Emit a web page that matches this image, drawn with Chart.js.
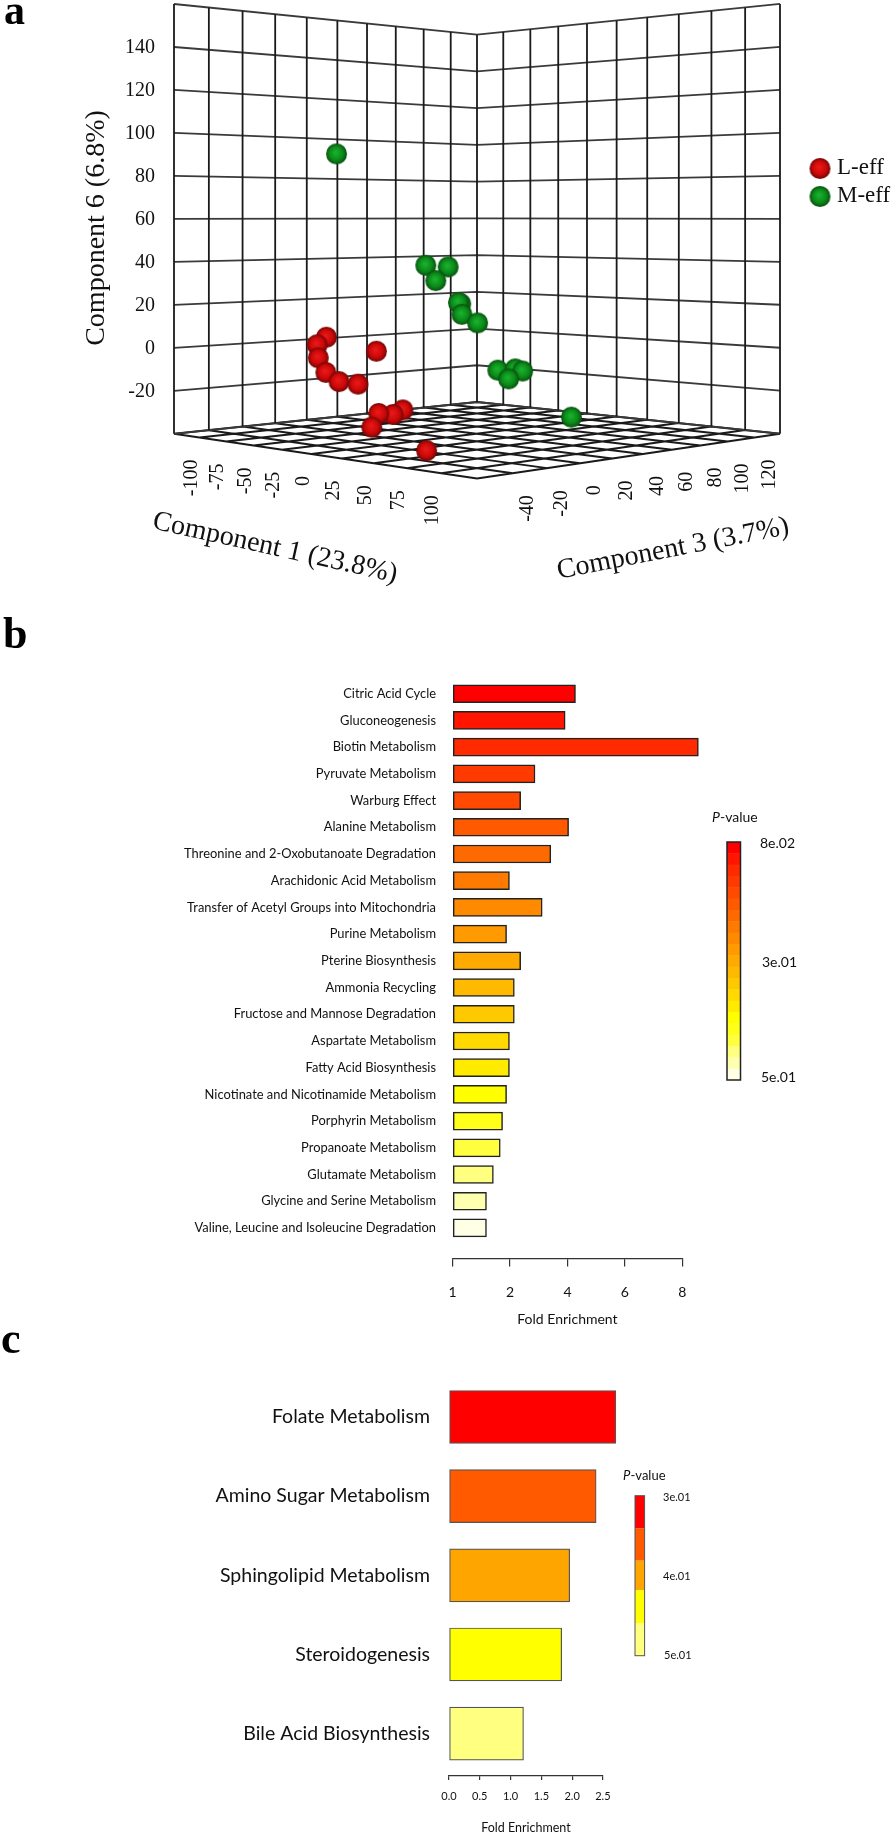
<!DOCTYPE html>
<html>
<head>
<meta charset="utf-8">
<script src="https://cdn.jsdelivr.net/npm/chart.js@4/dist/chart.umd.min.js"></script>
<style>
  html, body { margin: 0; padding: 0; background: #fff; }
  #page { position: relative; width: 896px; height: 1835px; overflow: hidden; }
  canvas { position: absolute; left: 0; }
</style>
</head>
<body>
<div id="page">
  <canvas id="chartA" width="896" height="600" style="top:0"></canvas>
  <canvas id="chartB" width="896" height="730" style="top:600px"></canvas>
  <canvas id="chartC" width="896" height="505" style="top:1330px"></canvas>
</div>
<script>
'use strict';

// panel a: component scores (depth along c3 can't be read from a flat picture, so it is a guess per group)
const lEffC1 = [-76.5, -85, -84, -77, -65, -48, -32, -9.5, -17.7, -30, -36, 63];
const lEffC3 = [0, 0, 0, 0, 0, 0, 0, 0, 0, 0, 0, -40];
const lEffC6 = [3.9, 0, -6.2, -12.8, -16.5, -16.8, -0.8, -26.4, -29, -29.3, -36, -35.7];

const mEffC1 = [-38, -70, -50, -61, -39, -41, -38, -24.5, -7.5, 7, 13, 1.5, 51.5];
const mEffC3 = [-20, 60, 60, 60, 60, 60, 60, 60, 60, 60, 60, 60, 60];
const mEffC6 = [89.5, 36.9, 36.4, 29.5, 18.7, 19.2, 13.6, 9.9, -12, -10.7, -11.4, -15.7, -30.6];

const c1Grid = [-125, -100, -75, -50, -25, 0, 25, 50, 75, 100, 125];
const c3Grid = [-60, -40, -20, 0, 20, 40, 60, 80, 100, 120, 140];
const c6Grid = [-40, -20, 0, 20, 40, 60, 80, 100, 120, 140, 160];
const c1Ticks = [-100, -75, -50, -25, 0, 25, 50, 75, 100];
const c3Ticks = [-40, -20, 0, 20, 40, 60, 80, 100, 120];
const c6Ticks = [-20, 0, 20, 40, 60, 80, 100, 120, 140];

// panel b
const pathwaysB = ['Citric Acid Cycle', 'Gluconeogenesis', 'Biotin Metabolism', 'Pyruvate Metabolism', 'Warburg Effect',
  'Alanine Metabolism', 'Threonine and 2-Oxobutanoate Degradation', 'Arachidonic Acid Metabolism',
  'Transfer of Acetyl Groups into Mitochondria', 'Purine Metabolism', 'Pterine Biosynthesis', 'Ammonia Recycling',
  'Fructose and Mannose Degradation', 'Aspartate Metabolism', 'Fatty Acid Biosynthesis',
  'Nicotinate and Nicotinamide Metabolism', 'Porphyrin Metabolism', 'Propanoate Metabolism', 'Glutamate Metabolism',
  'Glycine and Serine Metabolism', 'Valine, Leucine and Isoleucine Degradation'];
const foldB = [4.28, 3.92, 8.56, 2.87, 2.37, 4.04, 3.42, 1.99, 3.12, 1.94, 2.37, 2.15, 2.15, 1.99, 1.99, 1.94, 1.87, 1.83, 1.71, 1.59, 1.59];
const coloursB = ['#ff0000', '#ff1500', '#ff2a00', '#ff3a00', '#ff4a00', '#ff5a00', '#ff6a00', '#ff7a00', '#ff8a00', '#ff9a00',
  '#ffaa00', '#ffba00', '#ffc900', '#ffd900', '#ffeb00', '#ffff00', '#ffff1a', '#ffff40', '#ffff80', '#ffffb0', '#ffffe6'];
const foldTicksB = [1, 2, 4, 6, 8];
const pTicksB = ['8e.02', '3e.01', '5e.01'];

// panel c
const pathwaysC = ['Folate Metabolism', 'Amino Sugar Metabolism', 'Sphingolipid Metabolism', 'Steroidogenesis', 'Bile Acid Biosynthesis'];
const foldC = [2.71, 2.39, 1.96, 1.83, 1.21];
const coloursC = ['#ff0000', '#ff5a00', '#ffa500', '#ffff00', '#ffff80'];
const pTicksC = ['3e.01', '4e.01', '5e.01'];

const SERIF = '"Liberation Serif"';
const SANS = 'Lato';

function text(ctx, str, x, y, font, opts) {
  opts = opts || {};
  ctx.save();
  ctx.translate(x, y);
  if (opts.rot) ctx.rotate(opts.rot * Math.PI / 180);
  ctx.font = font;
  ctx.fillStyle = opts.color || '#111';
  ctx.textAlign = opts.align || 'left';
  ctx.textBaseline = opts.base || 'middle';
  ctx.fillText(str, 0, 0);
  ctx.restore();
}

// floor/wall perspective, corners
const perspBack = 1.17, perspFront = 0.83;
function project(c1, c3, c6) {
  let u = (c1 - c1Grid[0]) / (c1Grid[10] - c1Grid[0]);
  let v = (c3 - c3Grid[0]) / (c3Grid[10] - c3Grid[0]);
  let w = (c6 - c6Grid[0]) / (c6Grid[10] - c6Grid[0]);
  let W = 1 + (perspFront - 1) * u + (perspBack - 1) * v;
  let X = 174 + (perspFront * 477 - 174) * u + (perspBack * 477 - 174) * v;
  let Y = 433.8 + (perspFront * 478.5 - 433.8) * u + (perspBack * 402 - 433.8) * v - 429.8 * w;
  return { x: X / W, y: Y / W };
}

function ball(light, mid, edge) {
  let c = document.createElement('canvas');
  c.width = 23; c.height = 23;
  let g = c.getContext('2d');
  let grad = g.createRadialGradient(10.5, 10, 1, 11.5, 11.5, 10.5);
  grad.addColorStop(0, light);
  grad.addColorStop(0.6, mid);
  grad.addColorStop(1, edge);
  g.fillStyle = grad;
  g.beginPath();
  g.arc(11.5, 11.5, 10.5, 0, Math.PI * 2);
  g.fill();
  return c;
}
const redBall = ball('#e81818', '#cc0808', '#6e0606');
const greenBall = ball('#18b02c', '#0c8a1a', '#06500e');

function scores(c1, c3, c6) {
  return c1.map((v, i) => project(v, c3[i], c6[i]));
}

function gridLines(c) {
  let pts = [];
  let gap = () => pts.push({ x: null, y: null });
  if (c === 'wall-v') {
    c3Grid.forEach(v => { pts.push(project(c1Grid[0], v, c6Grid[0]), project(c1Grid[0], v, c6Grid[10])); gap(); });
    c1Grid.forEach(v => { pts.push(project(v, c3Grid[10], c6Grid[0]), project(v, c3Grid[10], c6Grid[10])); gap(); });
  } else if (c === 'wall-h') {
    c6Grid.forEach(v => {
      pts.push(project(c1Grid[0], c3Grid[0], v), project(c1Grid[0], c3Grid[10], v), project(c1Grid[10], c3Grid[10], v));
      gap();
    });
  } else {
    c1Grid.forEach(v => { pts.push(project(v, c3Grid[0], c6Grid[0]), project(v, c3Grid[10], c6Grid[0])); gap(); });
    c3Grid.forEach(v => { pts.push(project(c1Grid[0], v, c6Grid[0]), project(c1Grid[10], v, c6Grid[0])); gap(); });
  }
  return pts;
}

function gridSet(kind, color, width) {
  return { data: gridLines(kind), showLine: true, spanGaps: false, pointRadius: 0, borderColor: color, borderWidth: width, tension: 0 };
}

const labelsA = {
  id: 'labelsA',
  afterDraw(chart) {
    let ctx = chart.ctx;
    text(ctx, 'a', 4, 24, 'bold 42px ' + SERIF, { base: 'alphabetic', color: '#000' });
    c6Ticks.forEach(v => {
      let p = project(c1Grid[0], c3Grid[0], v);
      text(ctx, String(v), 155, p.y + 1, '20px ' + SERIF, { align: 'right' });
    });
    c1Ticks.forEach(v => {
      let p = project(v, c3Grid[0], c6Grid[0]);
      text(ctx, String(v), p.x - 8, p.y + 22, '20px ' + SERIF, { rot: -90, align: 'right' });
    });
    c3Ticks.forEach(v => {
      let p = project(c1Grid[10], v, c6Grid[0]);
      text(ctx, String(v), p.x + 15, p.y + 22, '20px ' + SERIF, { rot: -90, align: 'right' });
    });
    text(ctx, 'Component 6 (6.8%)', 97, 228, '28px ' + SERIF, { rot: -90, align: 'center' });
    text(ctx, 'Component 1 (23.8%)', 275, 548, '28px ' + SERIF, { rot: 12.5, align: 'center' });
    text(ctx, 'Component 3 (3.7%)', 673, 549, '28px ' + SERIF, { rot: -11, align: 'center' });
    ctx.drawImage(redBall, 808.5, 157);
    ctx.drawImage(greenBall, 808.5, 185);
    text(ctx, 'L-eff', 837, 168, '23px ' + SERIF);
    text(ctx, 'M-eff', 837, 196, '23px ' + SERIF);
  }
};

new Chart(document.getElementById('chartA'), {
  type: 'scatter',
  data: {
    datasets: [
      { label: 'M-eff', data: scores(mEffC1, mEffC3, mEffC6), pointStyle: greenBall, pointRadius: 10 },
      { label: 'L-eff', data: scores(lEffC1, lEffC3, lEffC6), pointStyle: redBall, pointRadius: 10 },
      gridSet('wall-v', '#1a1a1a', 1.8),
      gridSet('wall-h', '#3a3a3a', 1.8),
      gridSet('floor', '#1a1a1a', 2)
    ]
  },
  options: {
    responsive: false,
    animation: false,
    layout: { padding: 0, autoPadding: false },
    plugins: { legend: { display: false }, tooltip: { enabled: false } },
    scales: {
      x: { type: 'linear', display: false, min: 0, max: 896 },
      y: { type: 'linear', display: false, min: 0, max: 600, reverse: true }
    }
  },
  plugins: [labelsA]
});

// panel b axis has even spacing for 1,2,4,6,8
function foldToPos(v) {
  for (let i = 0; i < foldTicksB.length - 1; i++) {
    if (v <= foldTicksB[i + 1]) return i + (v - foldTicksB[i]) / (foldTicksB[i + 1] - foldTicksB[i]);
  }
  let n = foldTicksB.length - 1;
  return n + (v - foldTicksB[n]) / (foldTicksB[n] - foldTicksB[n - 1]);
}

function barChart(id, opts) {
  new Chart(document.getElementById(id), {
    type: 'bar',
    data: {
      datasets: [{
        data: opts.values.map((v, i) => ({ x: v, y: i })),
        backgroundColor: opts.colours,
        borderColor: opts.border,
        borderWidth: opts.borderWidth,
        borderSkipped: false,
        barThickness: opts.thickness,
        clip: false
      }]
    },
    options: {
      indexAxis: 'y',
      responsive: false,
      animation: false,
      layout: { padding: { top: opts.top, right: opts.right, left: 0, bottom: 0 }, autoPadding: false },
      plugins: { legend: { display: false }, tooltip: { enabled: false } },
      scales: {
        x: {
          type: 'linear',
          min: opts.xMin,
          max: opts.xMax,
          afterFit: s => { s.height = opts.axisHeight; },
          afterBuildTicks: s => { s.ticks = opts.xTicks.map(v => ({ value: v })); },
          border: { display: true, color: '#333', width: 1.2 },
          grid: { drawOnChartArea: false, drawTicks: true, tickLength: opts.tickLength, color: '#333', lineWidth: 1.2 },
          ticks: {
            autoSkip: false, maxRotation: 0, minRotation: 0, padding: opts.xPad, color: '#111',
            font: { family: SANS, size: opts.xFont }, callback: opts.xLabel
          },
          title: {
            display: true, text: 'Fold Enrichment', color: '#111',
            font: { family: SANS, size: opts.titleFont }, padding: { top: 0, bottom: opts.titlePad }
          }
        },
        y: {
          type: 'linear',
          reverse: true,
          offset: false,
          min: -0.5,
          max: opts.yMax,
          afterFit: s => { s.width = opts.left; },
          afterBuildTicks: s => { s.ticks = opts.labels.map((l, i) => ({ value: i })); },
          grid: { display: false, drawTicks: false },
          border: { display: false },
          ticks: {
            autoSkip: false, padding: opts.yPad, color: '#111',
            font: { family: SANS, size: opts.yFont }, callback: v => opts.labels[v]
          }
        }
      }
    },
    plugins: [opts.extra]
  });
}

const labelsB = {
  id: 'labelsB',
  afterDraw(chart) {
    let ctx = chart.ctx;
    text(ctx, 'b', 3, 48, 'bold 44px ' + SERIF, { base: 'alphabetic', color: '#000' });
    // colour key, offsets are from the canvas top
    let x = 727, y = 242, w = 13.5, h = 238, n = coloursB.length;
    coloursB.forEach((c, i) => {
      ctx.fillStyle = c;
      ctx.fillRect(x, y + i * h / n, w, h / n + 0.5);
    });
    ctx.strokeStyle = '#222';
    ctx.lineWidth = 1.5;
    ctx.strokeRect(x, y, w, h);
    text(ctx, 'P', 712, 217, 'italic 14px ' + SANS);
    text(ctx, '-value', 720, 217, '14px ' + SANS);
    text(ctx, pTicksB[0], 760, 243, '14px ' + SANS);
    text(ctx, pTicksB[1], 762, 362, '14px ' + SANS);
    text(ctx, pTicksB[2], 761, 477, '14px ' + SANS);
  }
};

const labelsC = {
  id: 'labelsC',
  afterDraw(chart) {
    let ctx = chart.ctx;
    text(ctx, 'c', 1, 23, 'bold 44px ' + SERIF, { base: 'alphabetic', color: '#000' });
    let x = 635, y = 165.7, w = 9.6;
    let stops = [0, 32.5, 65, 94.7, 127.6, 160];
    coloursC.forEach((c, i) => {
      ctx.fillStyle = c;
      ctx.fillRect(x, y + stops[i], w, stops[i + 1] - stops[i]);
    });
    ctx.strokeStyle = '#555';
    ctx.lineWidth = 1;
    ctx.strokeRect(x, y, w, 160);
    text(ctx, 'P', 623, 146, 'italic 13px ' + SANS);
    text(ctx, '-value', 630.5, 146, '13px ' + SANS);
    text(ctx, pTicksC[0], 663, 167.5, '11px ' + SANS);
    text(ctx, pTicksC[1], 663, 246, '11px ' + SANS);
    text(ctx, pTicksC[2], 664, 325, '11px ' + SANS);
  }
};

barChart('chartB', {
  values: foldB.map(foldToPos), labels: pathwaysB, colours: coloursB,
  border: '#222', borderWidth: 1.5, thickness: 18,
  top: 80.35, right: 213.7, left: 452.6, axisHeight: 71.6,
  xMin: 0, xMax: foldTicksB.length - 1, xTicks: foldTicksB.map((v, i) => i), xLabel: v => foldTicksB[v],
  yMax: 21.14, tickLength: 8, xPad: 18, xFont: 14, titleFont: 14, titlePad: 2, yPad: 16.6, yFont: 12.9,
  extra: labelsB
});

barChart('chartC', {
  values: foldC, labels: pathwaysC, colours: coloursC,
  border: '#555', borderWidth: 1.2, thickness: 53,
  top: 47.4, right: 293.1, left: 449, axisHeight: 59.4,
  xMin: 0, xMax: 2.5, xTicks: [0, 0.5, 1, 1.5, 2, 2.5], xLabel: v => v.toFixed(1),
  yMax: 4.53, tickLength: 4.5, xPad: 10, xFont: 11, titleFont: 12.5, titlePad: 0, yPad: 19, yFont: 19.5,
  extra: labelsC
});
</script>
</body>
</html>
